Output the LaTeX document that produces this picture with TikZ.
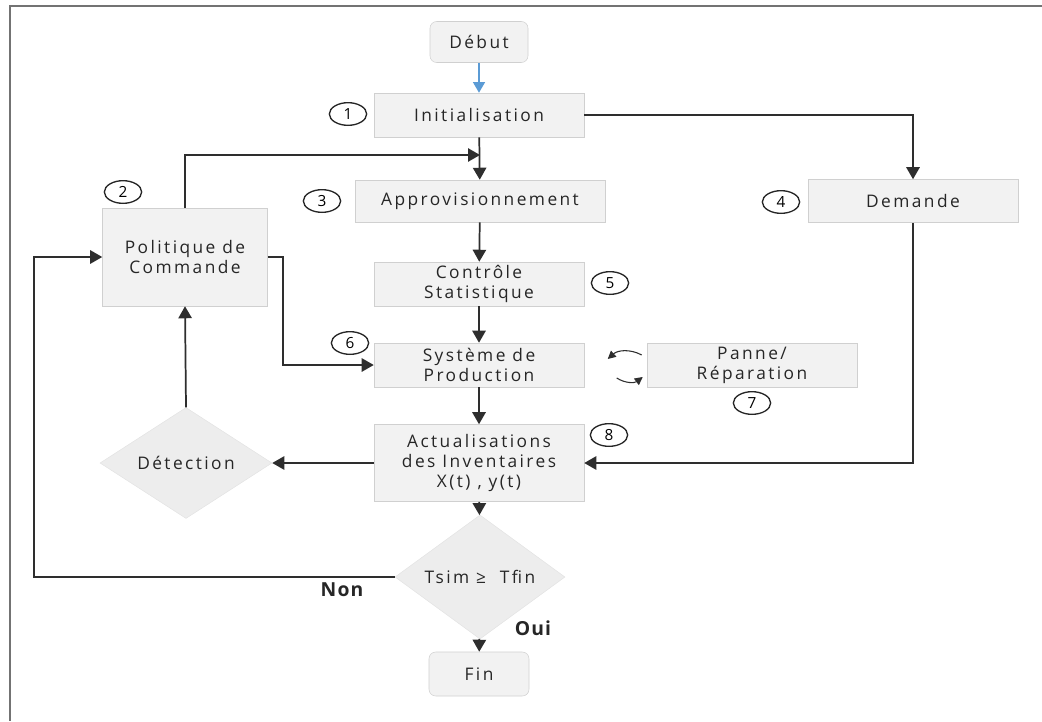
\documentclass[tikz,border=0pt]{standalone}
\usepackage{fontspec}
\newfontfamily\flowfont[LetterSpace=14]{Open Sans}
\newfontfamily\answerfont[LetterSpace=6]{Open Sans}
\usetikzlibrary{arrows.meta,calc,shapes.geometric}
\definecolor{boxfill}{HTML}{F2F2F2}
\definecolor{boxline}{HTML}{D0D0D0}
\definecolor{startblue}{HTML}{5B9BD5}
\tikzset{
	stepbox/.style={draw=boxline, fill=boxfill, align=center, inner sep=0pt,
		font=\flowfont\fontsize{13}{15}\selectfont, text=black!85,
		minimum width=157.5pt, minimum height=33pt},
	endbox/.style={stepbox, rounded corners=5pt},
	testbox/.style={diamond, draw=boxline!60, fill=black!7, inner sep=0pt,
		font=\flowfont\fontsize{13}{15}\selectfont, text=black!85},
	numtag/.style={ellipse, draw=black!85, line width=1pt, inner sep=0pt,
		minimum width=28pt, minimum height=17pt,
		font=\flowfont\fontsize{11.5}{13}\selectfont},
	link/.style={draw=black!82, line width=1.3pt, -{Triangle[length=9pt,width=10pt]}},
	answer/.style={font=\answerfont\bfseries\fontsize{14.5}{16}\selectfont, text=black!85}
}

\begin{document}
\begin{tikzpicture}[x=0.75pt, y=-0.75pt]
			%%%%% START %%%%%
			\useasboundingbox (0, 0) rectangle (1042, 721);
			
			% frame
			\draw[line width=1.5pt, color=black!55] (9, 6) -- (1042, 6);
			\draw[line width=1.5pt, color=black!55] (10, 6) -- (10, 721);
			
			% steps
			\node[endbox, minimum width=73.5pt, minimum height=30.75pt] (debut) at (479, 42) {Début};
			\node[stepbox] (init) at (479, 115) {Initialisation};
			\node[stepbox, minimum width=187.5pt, minimum height=31.5pt] (appro) at (480, 201) {Approvisionnement};
			\node[stepbox, minimum width=123.75pt, minimum height=73.5pt] (politique) at (185, 257) {Politique de\\Commande};
			\node[stepbox, minimum height=32.25pt] (demande) at (913, 201) {Demande};
			\node[stepbox] (controle) at (479, 284) {Contrôle\\Statistique};
			\node[stepbox] (systeme) at (479, 365) {Système de\\Production};
			\node[stepbox] (panne) at (752, 365) {Panne/\\Réparation};
			\node[stepbox, minimum height=57.75pt] (actu) at (479, 463) {Actualisations\\des Inventaires\\X(t) , y(t)};
			\node[testbox, minimum width=129pt, minimum height=56.25pt] (detection) at (186, 463) {Détection};
			\node[testbox, minimum width=127.5pt, minimum height=57.75pt] (tsim) at (480, 577) {Tsim ≥\ \ Tfin};
			\node[endbox, minimum width=75pt] (fin) at (479, 674) {Fin};
			
			% numbers
			\node[numtag] (n1) at (348, 114) {1};
			\node[numtag] (n2) at (123, 192) {2};
			\node[numtag] (n3) at (322, 201) {3};
			\node[numtag] (n4) at (781, 202) {4};
			\node[numtag] (n5) at (610, 283) {5};
			\node[numtag] (n6) at (350, 343) {6};
			\node[numtag] (n7) at (752, 403) {7};
			\node[numtag] (n8) at (609, 435) {8};
			
			% links
			\coordinate (merge) at (480, 155);
			\coordinate (loopcorner) at (34, 579);
			\draw[link, draw=startblue, line width=1.1pt, -{Triangle[length=8pt,width=9pt,fill=startblue]}] (debut) -- (init);
			\draw[link] (init) -- (appro);
			\draw[link] (politique.north) |- (merge);
			\draw[link] (init.east) -| (demande.north);
			\draw[link] (appro) -- (controle);
			\draw[link] (controle) -- (systeme);
			\draw[link] (systeme) -- (actu);
			\draw[link] (actu) -- (tsim);
			\draw[link] (tsim) -- (fin);
			\draw[link] (demande.south) |- (actu.east);
			\draw[link] (actu.west) -- (detection.east);
			\draw[link] (detection.north) -- (politique.south);
			\draw[link] (politique.east) -- ++(15, 0) |- (systeme.west);
			\draw[link] (tsim.west) -- (tsim.west -| loopcorner) -- (34, 257) -- (politique.west);
			
			% breakdown loop
			\draw[link, line width=0.8pt, -{Triangle[length=6pt,width=6pt]}] ($(panne.west)+(-5, -10)$) to[bend right=35] ($(panne.west)+(-39, -6)$);
			\draw[link, line width=0.8pt, -{Triangle[length=6pt,width=6pt]}] ($(panne.west)+(-30, 13)$) to[bend right=35] ($(panne.west)+(-4, 12)$);
			
			% answers
			\node[answer] (non) at (342, 590) {Non};
			\node[answer] (oui) at (533, 628) {Oui};
			%%%%% END %%%%%
\end{tikzpicture}
\end{document}
